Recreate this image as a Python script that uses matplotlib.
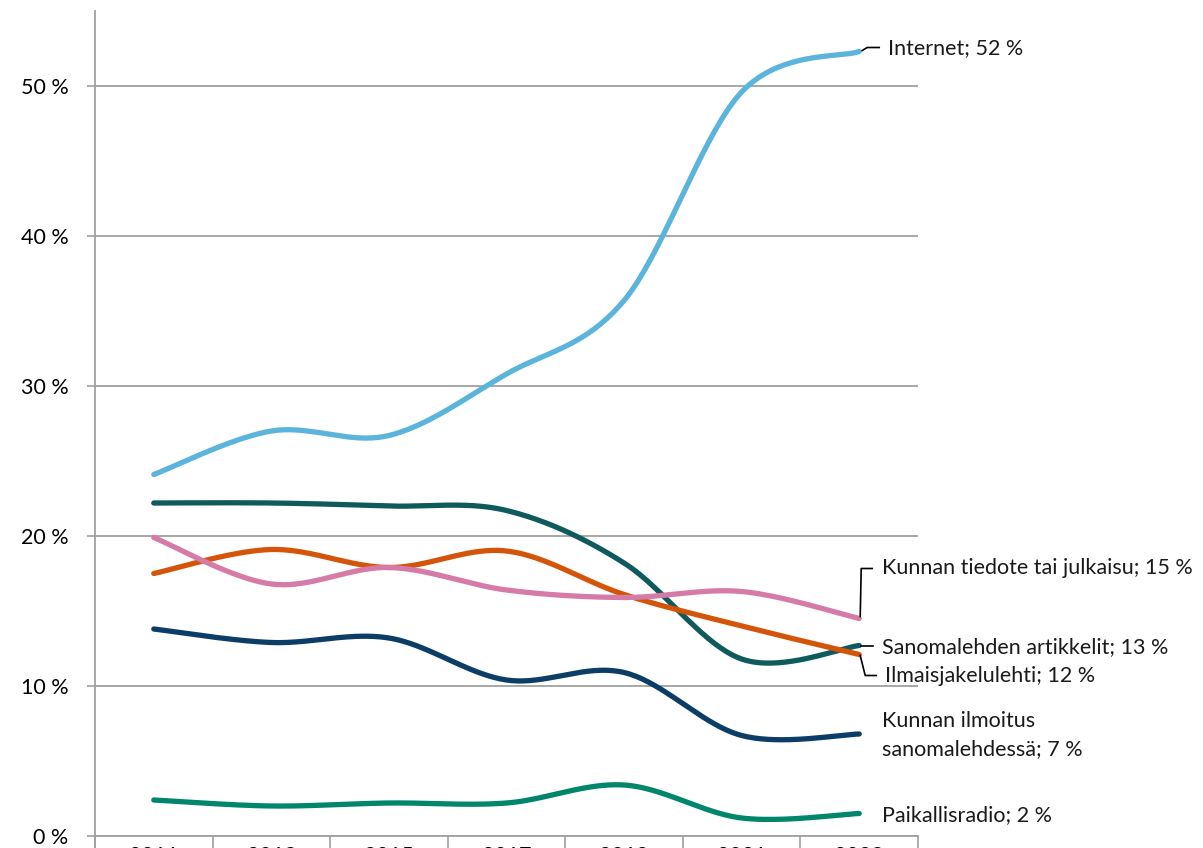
import numpy as np
import matplotlib
matplotlib.use("Agg")
import matplotlib.pyplot as plt
from matplotlib.transforms import IdentityTransform

plt.rcParams['font.family'] = ['Lato', 'DejaVu Sans']

years = ["2011", "2013", "2015", "2017", "2019", "2021", "2023"]
internet = [24.1, 27.0, 26.7, 30.8, 35.7, 49.6, 52.3]
sanomalehden = [22.2, 22.2, 22.0, 21.7, 18.2, 11.8, 12.7]
tiedote = [19.9, 16.8, 17.9, 16.4, 15.9, 16.3, 14.5]
ilmaisjakelu = [17.5, 19.1, 17.9, 19.0, 16.1, 14.0, 12.1]
ilmoitus = [13.8, 12.9, 13.2, 10.4, 10.9, 6.7, 6.8]
radio = [2.4, 2.0, 2.2, 2.2, 3.4, 1.2, 1.5]

series = [
    ("Internet; 52 %", internet, "#5ab4db"),
    ("Sanomalehden artikkelit; 13 %", sanomalehden, "#0f5a5c"),
    ("Ilmaisjakelulehti; 12 %", ilmaisjakelu, "#d4550a"),
    ("Kunnan tiedote tai julkaisu; 15 %", tiedote, "#d67aa7"),
    ("Kunnan ilmoitus\nsanomalehdessä; 7 %", ilmoitus, "#0b3d66"),
    ("Paikallisradio; 2 %", radio, "#00876b"),
]


def smooth(xs, ys, n=40):
    xs = np.asarray(xs, float)
    ys = np.asarray(ys, float)
    P = np.column_stack([xs, ys])
    Pext = np.vstack([P[0], P, P[-1]])
    out = []
    for i in range(len(P) - 1):
        p0, p1, p2, p3 = Pext[i], Pext[i + 1], Pext[i + 2], Pext[i + 3]
        c1 = p1 + (p2 - p0) / 6.0
        c2 = p2 - (p3 - p1) / 6.0
        t = np.linspace(0, 1, n)[:, None]
        seg = ((1 - t) ** 3) * p1 + 3 * ((1 - t) ** 2) * t * c1 + 3 * (1 - t) * t ** 2 * c2 + t ** 3 * p2
        out.append(seg if i == 0 else seg[1:])
    arr = np.vstack(out)
    return arr[:, 0], arr[:, 1]


W, H = 1203, 848
FS = 15.5
fig = plt.figure(figsize=(W / 100, H / 100), dpi=100)
ax = fig.add_axes([95 / W, 12 / H, (918 - 95) / W, (836 - 11) / H])

x = np.arange(len(years)) + 0.5
for label, vals, col in series:
    sx, sy = smooth(x, vals)
    ax.plot(sx, sy, color=col, lw=3.8, solid_capstyle='round', zorder=3)

ax.set_xlim(0, len(years))
ax.set_ylim(0, 55)
ax.set_yticks(np.arange(0, 51, 10))
ax.set_yticklabels([f"{v} %" for v in range(0, 51, 10)], fontsize=FS)
ax.yaxis.grid(True, color="#a0a0a0", lw=1.3)
ax.set_axisbelow(True)
ax.tick_params(axis='y', length=6, width=1.2, color="#a0a0a0", pad=13)
ax.set_xticks(np.arange(0, len(years) + 1), minor=False)
ax.set_xticklabels([])
ax.set_xticks(x, minor=True)
ax.set_xticklabels(years, minor=True, fontsize=FS)
ax.tick_params(axis='x', which='major', length=14, width=1.2, color="#a0a0a0", direction='out')
ax.tick_params(axis='x', which='minor', length=0, pad=7)
for s in ["top", "right"]:
    ax.spines[s].set_visible(False)
ax.spines['left'].set_color("#a0a0a0")
ax.spines['left'].set_linewidth(1.3)
ax.spines['bottom'].set_color("#a0a0a0")
ax.spines['bottom'].set_linewidth(1.3)
ax.spines['left'].set_bounds(-1, 55)

# labels with leader lines (offsets in pixels, y up)
label_specs = {
    "Internet; 52 %": ((29, 3), [(3, 1), (8, 4), (20, 4)]),
    "Sanomalehden artikkelit; 13 %": ((23, -2), [(2, 0), (14, 0)]),
    "Ilmaisjakelulehti; 12 %": ((26, -21), [(1, -1), (6, -21), (17, -21)]),
    "Kunnan tiedote tai julkaisu; 15 %": ((23, 50), [(1, 2), (2, 50), (13, 50)]),
    "Kunnan ilmoitus\nsanomalehdessä; 7 %": ((23, -1), None),
    "Paikallisradio; 2 %": ((23, -2), None),
}

fig.canvas.draw()
for label, vals, col in series:
    (dx, dy), leader = label_specs[label]
    px, py = ax.transData.transform((x[-1], vals[-1]))
    fig.text((px + dx) / W, (py + dy) / H, label, fontsize=FS, ha='left', va='center',
             linespacing=1.5, color="#1a1a1a")
    if leader:
        lx = [px + a for a, b in leader]
        ly = [py + b for a, b in leader]
        fig.add_artist(plt.Line2D(lx, ly, transform=IdentityTransform(), color='black', lw=1.2, zorder=5))

fig.savefig("out.png", dpi=100)
